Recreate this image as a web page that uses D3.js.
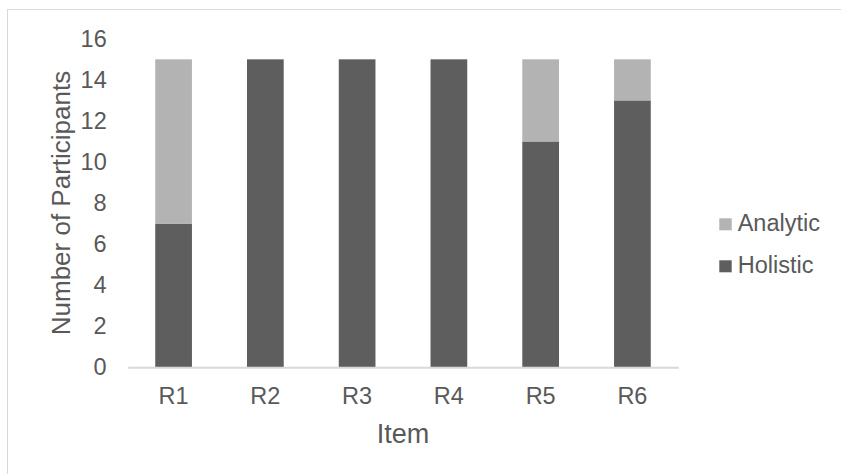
<!DOCTYPE html>
<html>
<head>
<meta charset="utf-8">
<script src="https://cdn.jsdelivr.net/npm/d3@7"></script>
<style>
  html, body { margin: 0; padding: 0; background: #fff; }
  svg { display: block; font-family: "Liberation Sans", Arial, sans-serif; }
</style>
</head>
<body>
<svg id="chart" width="841" height="474"></svg>
<script>
// Response type per item (stacked: Holistic at the bottom, Analytic on top)
const categories = ["R1", "R2", "R3", "R4", "R5", "R6"];
const holistic = [7, 15, 15, 15, 11, 13];
const analytic = [8, 0, 0, 0, 4, 2];
const seriesNames = ["Holistic", "Analytic"];
const yTicks = [0, 2, 4, 6, 8, 10, 12, 14, 16];

const colors = { Holistic: "#5e5e5e", Analytic: "#b3b3b3" };
const textColor = "#595959";

const svg = d3.select("#chart");

// Chart frame
svg.append("rect")
  .attr("x", 7.5).attr("y", 9.5)
  .attr("width", 850).attr("height", 480)
  .attr("fill", "none").attr("stroke", "#d9d9d9").attr("stroke-width", 1);

const plot = { left: 127.7, right: 678.3, top: 38.8, bottom: 367.3 };

const x = d3.scaleBand()
  .domain(categories)
  .range([plot.left, plot.right])
  .paddingInner(0.6)
  .paddingOuter(0.3);

const y = d3.scaleLinear()
  .domain([0, 16])
  .range([plot.bottom, plot.top]);

const rows = categories.map((c, i) => ({ cat: c, Holistic: holistic[i], Analytic: analytic[i] }));
const stacked = d3.stack().keys(seriesNames)(rows);

svg.append("g")
  .selectAll("g")
  .data(stacked)
  .join("g")
  .attr("fill", d => colors[d.key])
  .selectAll("rect")
  .data(d => d.filter(s => s[1] - s[0] > 0))
  .join("rect")
  .attr("x", d => x(d.data.cat))
  .attr("width", x.bandwidth())
  .attr("y", d => y(d[1]))
  .attr("height", d => y(d[0]) - y(d[1]));

// Y axis (labels only)
const yAxis = svg.append("g")
  .attr("transform", `translate(${plot.left - 21},0)`)
  .call(d3.axisLeft(y).tickValues(yTicks).tickSize(0).tickPadding(0));
yAxis.select(".domain").remove();
yAxis.selectAll("text")
  .attr("fill", textColor)
  .attr("font-size", "23.5px")
  .attr("font-family", "Liberation Sans, Arial, sans-serif");

// X axis with baseline
const xAxis = svg.append("g")
  .attr("transform", `translate(0,${plot.bottom})`)
  .call(d3.axisBottom(x).tickSize(0).tickPadding(0));
xAxis.select(".domain")
  .attr("stroke", "#d9d9d9").attr("stroke-width", 2);
xAxis.selectAll("text")
  .attr("fill", textColor)
  .attr("font-size", "23.5px")
  .attr("font-family", "Liberation Sans, Arial, sans-serif")
  .attr("dy", null)
  .attr("y", 37);

// Axis titles
svg.append("text")
  .attr("x", (plot.left + plot.right) / 2)
  .attr("y", 442.7)
  .attr("text-anchor", "middle")
  .attr("fill", textColor)
  .attr("font-size", "27px")
  .text("Item");

svg.append("text")
  .attr("transform", `translate(69.5,${(plot.top + plot.bottom) / 2}) rotate(-90)`)
  .attr("text-anchor", "middle")
  .attr("fill", textColor)
  .attr("font-size", "26px")
  .text("Number of Participants");

// Legend
const legendItems = ["Analytic", "Holistic"];
const legend = svg.append("g")
  .selectAll("g")
  .data(legendItems)
  .join("g")
  .attr("transform", (d, i) => `translate(719.3,${218.3 + i * 42})`);
legend.append("rect")
  .attr("width", 12.4).attr("height", 12)
  .attr("fill", d => colors[d]);
legend.append("text")
  .attr("x", 18.4)
  .attr("y", 12.4)
  .attr("fill", textColor)
  .attr("font-size", "23.5px")
  .text(d => d);
</script>
</body>
</html>
